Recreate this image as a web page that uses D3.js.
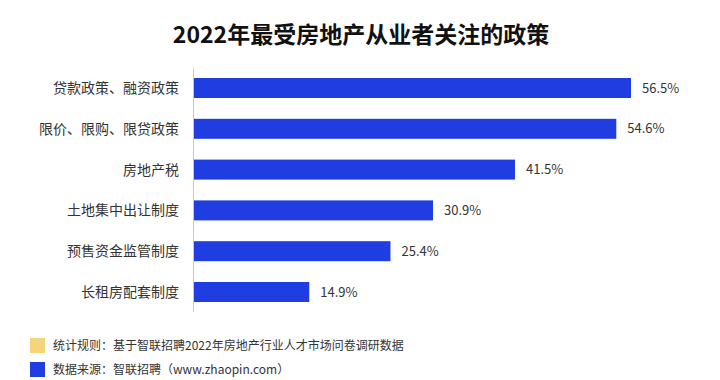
<!DOCTYPE html>
<html>
<head>
<meta charset="utf-8">
<script src="https://cdn.jsdelivr.net/npm/d3@7"></script>
<style>
  body { margin: 0; background: #fff; }
  svg { display: block; font-family: "Noto Sans CJK SC", "Noto Sans", sans-serif; }
</style>
</head>
<body>
<svg id="chart" width="720" height="380"></svg>
<script>
const categories = ["贷款政策、融资政策", "限价、限购、限贷政策", "房地产税", "土地集中出让制度", "预售资金监管制度", "长租房配套制度"];
const values = [56.5, 54.6, 41.5, 30.9, 25.4, 14.9];
const notes = [
    { color: "#f6d47c", text: "统计规则：基于智联招聘2022年房地产行业人才市场问卷调研数据" },
    { color: "#1f3de0", text: "数据来源：智联招聘（www.zhaopin.com）" }
];

const svg = d3.select("#chart");
const barColor = "#1f3de0";

const x = d3.scaleLinear().domain([0, 56.5]).range([194, 631]);
const y = d3.scaleBand().domain(categories).range([67.6, 312.4]).paddingInner(0.51).paddingOuter(0.255);

// title
svg.append("text")
    .attr("x", 361)
    .attr("y", 43)
    .attr("text-anchor", "middle")
    .attr("font-size", "23px")
    .attr("font-weight", "bold")
    .attr("fill", "#111")
    .text("2022年最受房地产从业者关注的政策");

// axis line
svg.append("line")
    .attr("x1", 193.5).attr("x2", 193.5)
    .attr("y1", 68).attr("y2", 312)
    .attr("stroke", "#c8c8c8")
    .attr("stroke-width", 1);

const rows = categories.map((c, i) => ({ category: c, value: values[i] }));

svg.selectAll(".bar")
    .data(rows)
    .enter().append("rect")
    .attr("class", "bar")
    .attr("x", x(0))
    .attr("y", d => y(d.category))
    .attr("width", d => x(d.value) - x(0))
    .attr("height", y.bandwidth())
    .attr("fill", barColor);

svg.selectAll(".cat-label")
    .data(rows)
    .enter().append("text")
    .attr("class", "cat-label")
    .attr("x", 179)
    .attr("y", d => y(d.category) + y.bandwidth() / 2)
    .attr("dy", "0.35em")
    .attr("text-anchor", "end")
    .attr("font-size", "14px")
    .attr("fill", "#333")
    .text(d => d.category);

svg.selectAll(".val-label")
    .data(rows)
    .enter().append("text")
    .attr("class", "val-label")
    .attr("x", d => x(d.value) + 11)
    .attr("y", d => y(d.category) + y.bandwidth() / 2)
    .attr("dy", "0.35em")
    .attr("font-size", "13px")
    .attr("fill", "#333")
    .text(d => d.value.toFixed(1) + "%");

// footer notes
const note = svg.selectAll(".note")
    .data(notes)
    .enter().append("g")
    .attr("class", "note")
    .attr("transform", (d, i) => `translate(30, ${338 + i * 24})`);

note.append("rect")
    .attr("width", 15).attr("height", 15)
    .attr("fill", d => d.color);

note.append("text")
    .attr("x", 23)
    .attr("y", 7.5)
    .attr("dy", "0.35em")
    .attr("font-size", "12px")
    .attr("fill", "#333")
    .text(d => d.text);
</script>
</body>
</html>
